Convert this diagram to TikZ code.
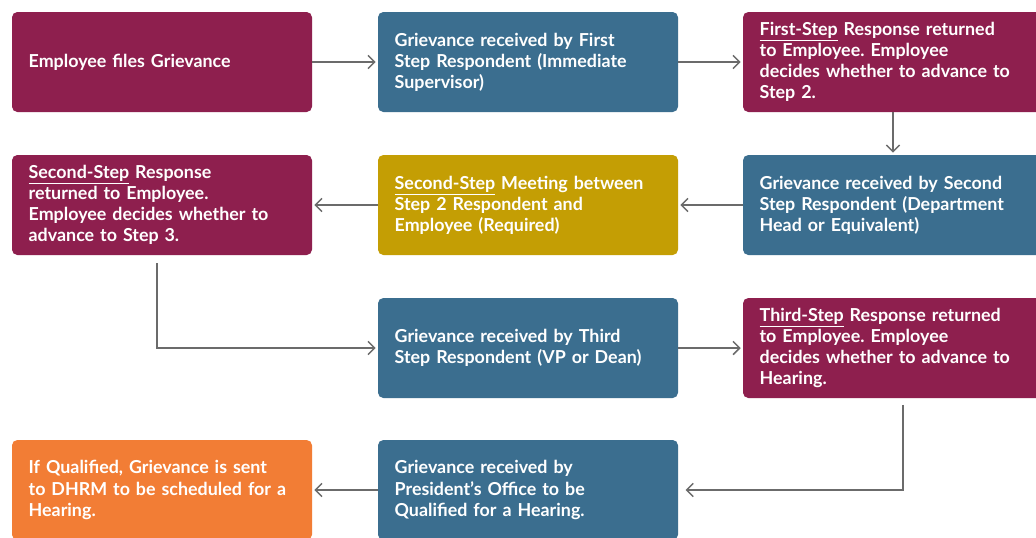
\documentclass[tikz,border=0pt]{standalone}
\usepackage{fontspec}
\setmainfont{Lato}
\usetikzlibrary{arrows.meta, positioning, calc}
\definecolor{wine}{HTML}{8E1F4E}
\definecolor{steel}{HTML}{3B6E8F}
\definecolor{mustard}{HTML}{C49E04}
\definecolor{tangerine}{HTML}{F27D35}
\frenchspacing
\tikzset{
  block/.style = {rounded corners=4pt, align=left, text=white, inner sep=0pt,
    font=\bfseries\fontsize{13.4}{15.8}\selectfont,
    minimum width=225pt, minimum height=75pt, text width=200pt},
  arrow/.style = {-{Straight Barb[length=5pt,width=10pt]}, line width=1.1pt,
    draw=black!58, shorten >=1.5pt}
}

\begin{document}
\begin{tikzpicture}[x=0.75pt, y=-0.75pt]
  \clip (0,0) rectangle (1036,537);
  \fill[white] (0,0) rectangle (1036,537);

  % row 1
  \node[block, fill=wine]  (emp)       at (162,62) {Employee files Grievance};
  \node[block, fill=steel] (first)     at (528,62) {Grievance received by First\\Step Respondent (Immediate\\Supervisor)};
  \node[block, fill=wine]  (firstresp) at (893,62) {\underline{First-Step} Response returned\\to Employee. Employee\\decides whether to advance to\\Step 2.};

  % row 2
  \node[block, fill=wine]    (secondresp) at (162,205) {\underline{Second-Step} Response\\returned to Employee.\\Employee decides whether to\\advance to Step 3.};
  \node[block, fill=mustard] (meeting)    at (528,205) {\underline{Second-Step} Meeting between\\Step 2 Respondent and\\Employee (Required)};
  \node[block, fill=steel]   (second)     at (893,205) {Grievance received by Second\\Step Respondent (Department\\Head or Equivalent)};

  % row 3
  \node[block, fill=steel] (third)     at (528,348) {Grievance received by Third\\Step Respondent (VP or Dean)};
  \node[block, fill=wine]  (thirdresp) at (893,348) {\underline{Third-Step} Response returned\\to Employee. Employee\\decides whether to advance to\\Hearing.};

  % row 4
  \node[block, fill=tangerine] (dhrm) at (162,490) {If Qualified, Grievance is sent\\to DHRM to be scheduled for a\\Hearing.};
  \node[block, fill=steel]     (pres) at (528,490) {Grievance received by\\President's Office to be\\Qualified for a Hearing.};

  \draw[arrow] (emp.east) -- (first.west);
  \draw[arrow] (first.east) -- (firstresp.west);
  \draw[arrow] (firstresp.south) -- (second.north);
  \draw[arrow] (second.west) -- (meeting.east);
  \draw[arrow] (meeting.west) -- (secondresp.east);
  \draw[arrow, shorten <=6pt] ($(secondresp.south)+(-5,0)$) |- (third.west);
  \draw[arrow] (third.east) -- (thirdresp.west);
  \draw[arrow, shorten <=5pt, shorten >=5.5pt] ($(thirdresp.south)+(10,0)$) |- (pres.east);
  \draw[arrow] (pres.west) -- (dhrm.east);
\end{tikzpicture}
\end{document}
